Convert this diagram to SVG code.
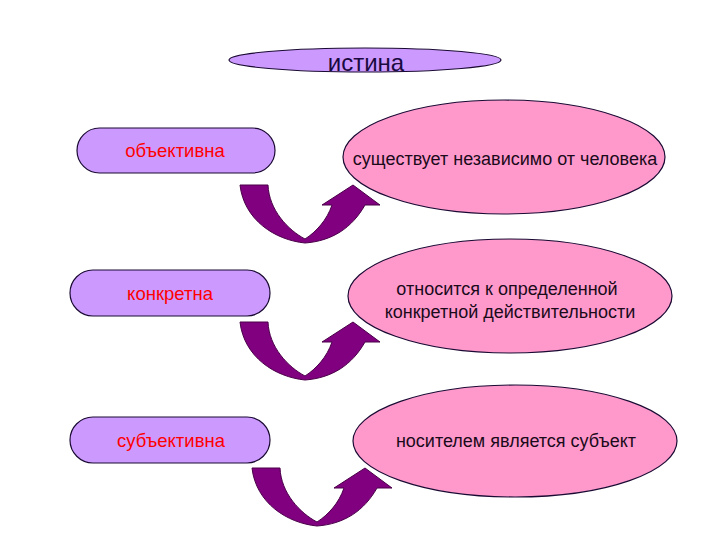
<svg xmlns="http://www.w3.org/2000/svg" width="720" height="540" viewBox="0 0 720 540">
<style>
.lav{fill:#cc99ff;stroke:#1a0a33;stroke-width:1.2}
.pink{fill:#ff99cc;stroke:#1a0a33;stroke-width:1.2}
.red{font-family:"Liberation Sans",Arial,sans-serif;font-size:18.5px;fill:#ff0000;text-anchor:middle}
.dark{font-family:"Liberation Sans",Arial,sans-serif;font-size:18px;fill:#1a0a1a;text-anchor:middle}
.arr{fill:#800080;stroke:#4a0048;stroke-width:1}
</style>
<defs>
<path id="uarrow" d="M240,185 L268,185 C269,210 288,230 305,239 C316,232 327,220 332,205 L322,205 L353,185 L380,205 L365,205 C352,228 332,241 305,243 C275,240 244,220 240,185 Z"/>
</defs>
<rect width="720" height="540" fill="#ffffff"/>
<g id="istina">
<ellipse class="lav" cx="365" cy="60" rx="136" ry="12"/>
<text x="366" y="71" font-family="Liberation Sans,Arial,sans-serif" font-size="24" fill="#1a0a40" text-anchor="middle">истина</text>
</g>
<g id="objektivna">
<rect class="lav" x="77" y="128" width="198" height="45" rx="22.5"/>
<text class="red" x="175" y="157">объективна</text>
</g>
<g id="konkretna">
<rect class="lav" x="70" y="270" width="200" height="46" rx="23"/>
<text class="red" x="170" y="300">конкретна</text>
</g>
<g id="subjektivna">
<rect class="lav" x="70" y="417" width="200" height="46" rx="23"/>
<text class="red" x="171" y="447">субъективна</text>
</g>
<g id="e1">
<ellipse class="pink" cx="504" cy="157" rx="161" ry="57"/>
<text class="dark" x="505" y="165">существует независимо от человека</text>
</g>
<g id="e2">
<ellipse class="pink" cx="510" cy="296" rx="162" ry="57"/>
<text class="dark" x="507" y="295">относится к определенной</text>
<text class="dark" x="510" y="318">конкретной действительности</text>
</g>
<g id="e3">
<ellipse class="pink" cx="515" cy="441" rx="162" ry="56"/>
<text class="dark" x="516" y="447">носителем является субъект</text>
</g>
<g id="connectors">
<use href="#uarrow" class="arr"/>
<use href="#uarrow" class="arr" transform="translate(0,137)"/>
<use href="#uarrow" class="arr" transform="translate(12,283)"/>
</g>
</svg>
